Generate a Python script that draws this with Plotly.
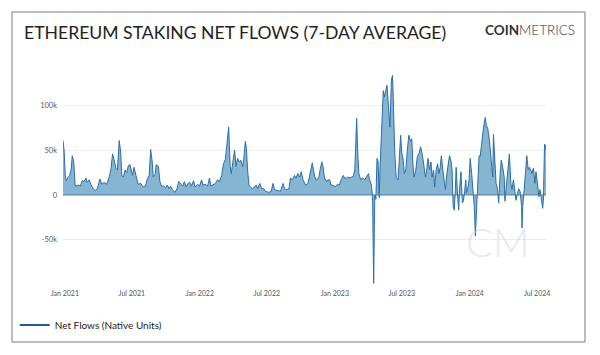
import pandas as pd
import plotly.graph_objects as go

# Days since 2021-01-01 and 7-day average net flows (thousands of ETH)
day_offset = [-5, -2, 1, 4, 9, 13, 17, 20, 24, 28, 36, 42, 47, 52, 57, 60, 66, 70, 77, 82, 88, 95, 100, 106, 113,
              120, 125, 129, 134, 138, 142, 147, 151, 154, 158, 163, 167, 172, 176, 180, 183, 187, 191, 194, 198,
              205, 212, 218, 223, 228, 232, 236, 239, 244, 247, 253, 257, 261, 267, 272, 277, 282, 286, 292, 298,
              303, 308, 314, 319, 323, 328, 333, 338, 342, 348, 352, 359, 364, 370, 373, 379, 386, 391, 395, 400,
              407, 413, 418, 424, 429, 434, 438, 443, 447, 450, 455, 459, 463, 467, 472, 476, 481, 484, 488, 491,
              494, 498, 502, 507, 512, 518, 521, 527, 532, 538, 543, 551, 558, 563, 567, 574, 583, 590, 594, 599,
              606, 610, 615, 621, 625, 630, 635, 639, 644, 651, 657, 661, 664, 669, 673, 678, 682, 687, 691, 695,
              698, 702, 708, 711, 716, 720, 726, 730, 737, 742, 747, 753, 756, 761, 765, 771, 775, 780, 784, 786,
              789, 792, 795, 800, 805, 811, 816, 821, 824, 829, 832, 835, 838, 839, 841, 844, 847, 850, 852, 856,
              859, 861, 864, 868, 871, 875, 879, 883, 886, 888, 892, 896, 901, 905, 908, 911, 915, 918, 922, 926,
              930, 935, 938, 941, 944, 949, 953, 958, 962, 967, 971, 975, 979, 982, 986, 990, 993, 997, 1000, 1004,
              1008, 1011, 1015, 1018, 1022, 1026, 1029, 1033, 1037, 1040, 1044, 1047, 1050, 1053, 1056, 1058, 1062,
              1065, 1067, 1071, 1075, 1078, 1081, 1084, 1086, 1089, 1093, 1096, 1100, 1103, 1107, 1110, 1112, 1116,
              1120, 1123, 1127, 1131, 1134, 1137, 1140, 1143, 1148, 1152, 1157, 1159, 1162, 1166, 1170, 1173, 1177,
              1180, 1184, 1188, 1190, 1195, 1198, 1202, 1206, 1209, 1213, 1216, 1220, 1224, 1227, 1231, 1235, 1236,
              1238, 1242, 1245, 1249, 1253, 1256, 1260, 1263, 1267, 1271, 1274, 1278, 1282, 1285, 1289, 1292, 1294,
              1297, 1300, 1301]
net_flows_k = [61, 50, 22, 16, 20, 22, 28, 44, 37, 10, 11, 10, 16, 15, 19, 14, 17, 12, 7, 5, 7, 18, 12, 14, 12,
               20, 30, 46, 38, 30, 28, 61, 48, 22, 20, 28, 25, 33, 34, 25, 22, 31, 24, 20, 12,
               13, 9, 10, 18, 22, 51, 38, 20, 23, 34, 32, 15, 10, 10, 8, 11, 7, 10, 5, 3,
               7, 15, 12, 10, 15, 9, 13, 14, 10, 16, 9, 12, 10, 17, 11, 12, 10, 19, 10, 11,
               13, 17, 15, 22, 35, 40, 60, 76, 32, 24, 39, 50, 32, 41, 37, 39, 32, 41, 60, 52,
               28, 11, 9, 7, 9, 11, 7, 13, 7, 7, 4, 3, 4, 13, 6, 5, 4, 13, 7, 6,
               7, 19, 17, 22, 19, 24, 20, 26, 17, 11, 13, 20, 28, 36, 26, 17, 17, 20, 30, 37,
               32, 19, 15, 17, 17, 11, 11, 9, 12, 11, 17, 22, 19, 19, 20, 19, 20, 21, 28, 48,
               86, 47, 24, 17, 19, 17, 20, 24, 17, 11, -2, -99, -2, 0, -5, 41, 38, -3, 28, 65,
               103, 117, 110, 118, 123, 100, 76, 129, 134, 110, 47, 20, 17, 45, 67, 47, 39, 24, 28, 50,
               67, 60, 63, 35, 20, 28, 43, 47, 54, 44, 31, 20, 30, 41, 28, 37, 20, 28, 9, 28,
               35, 24, 31, 44, 28, 13, 6, 24, 39, 44, 39, 28, -13, -17, 6, 31, -2,
               -17, 6, 26, -9, -6, 4, 17, 2, 6, 17, 41, 24, 9, -13, -46, -24, 20,
               44, 43, 61, 72, 81, 87, 76, 76, 61, 46, 20, 68, 46, 13, 6, -9, 24,
               39, 31, 20, -7, 13, 31, 46, 13, 6, 17, 6, -6, 2, 7, 4, -13, -37,
               -13, 6, 20, 44, 28, 31, 28, 24, 30, 13, 26, 9, -2, 6, -9, -15, -6,
               57, 55, 50]

y_tick_vals = [-50000, 0, 50000, 100000]
y_tick_text = ["-50k", "0", "50k", "100k"]

dates = pd.Timestamp("2021-01-01") + pd.to_timedelta(day_offset, unit="D")
values = [v * 1000 for v in net_flows_k]

FONT = "Lato, 'Open Sans', sans-serif"
LINE_COLOR = "#2a6fa6"

fig = go.Figure()
fig.add_trace(go.Scatter(
    x=dates, y=values, mode="lines", name="Net Flows (Native Units)",
    line=dict(color=LINE_COLOR, width=1),
    fill="tozeroy", fillcolor="#86b5d2", showlegend=False,
))
# legend entry drawn as a plain line
fig.add_trace(go.Scatter(
    x=[None], y=[None], mode="lines", name="Net Flows (Native Units)",
    line=dict(color="#1f5f96", width=2), showlegend=True,
))

fig.update_layout(
    width=600, height=355,
    margin=dict(l=63, r=54, t=75, b=71, autoexpand=False),
    paper_bgcolor="white", plot_bgcolor="white",
    font=dict(family=FONT),
    showlegend=True,
    legend=dict(x=-0.1, y=-0.196, xanchor="left", yanchor="middle",
                font=dict(size=10, color="#222", family=FONT),
                bgcolor="rgba(0,0,0,0)", itemwidth=30),
    xaxis=dict(
        range=[dates[0], dates[-1]],
        tickformat="%b %Y", dtick="M6", tick0="2021-01-01",
        showgrid=False, zeroline=False, showline=False,
        tickfont=dict(size=7, color="#555"), ticks="", ticklabelstandoff=4,
    ),
    yaxis=dict(
        range=[-99800, 134500],
        tickvals=y_tick_vals, ticktext=y_tick_text,
        showgrid=True, gridcolor="#ececec", gridwidth=1,
        zeroline=False, showline=False,
        tickfont=dict(size=7.5, color="#555"), ticks="", ticklabelstandoff=5,
    ),
    shapes=[
        dict(type="line", xref="paper", yref="y", x0=0, x1=1, y0=0, y1=0,
             line=dict(color="#4f7fa3", width=1), layer="above"),
        dict(type="rect", xref="paper", yref="paper",
             x0=-0.1056, x1=1.0807, y0=-0.2775, y1=1.3014,
             line=dict(color="#7a7a7a", width=1), layer="below"),
    ],
    annotations=[
        dict(text="ETHEREUM STAKING NET FLOWS (7-DAY AVERAGE)", xref="paper", yref="paper",
             x=-0.085, y=1.201, xanchor="left", yanchor="middle", showarrow=False,
             font=dict(size=17.6, color="#222", family=FONT)),
        dict(text="<b>COIN</b><span style='font-weight:300'>METRICS</span>", xref="paper", yref="paper",
             x=1.064, y=1.215, xanchor="right", yanchor="middle", showarrow=False,
             font=dict(size=13.5, color="#333", family=FONT)),
        dict(text="CM", xref="paper", yref="paper", x=0.9, y=0.2,
             xanchor="center", yanchor="middle", showarrow=False,
             font=dict(size=40, color="rgba(205,210,230,0.5)", family=FONT, weight=300)),
    ],
)

fig.write_html("out.html", config={"displayModeBar": False},
               post_script="document.body.style.margin='0px';")
